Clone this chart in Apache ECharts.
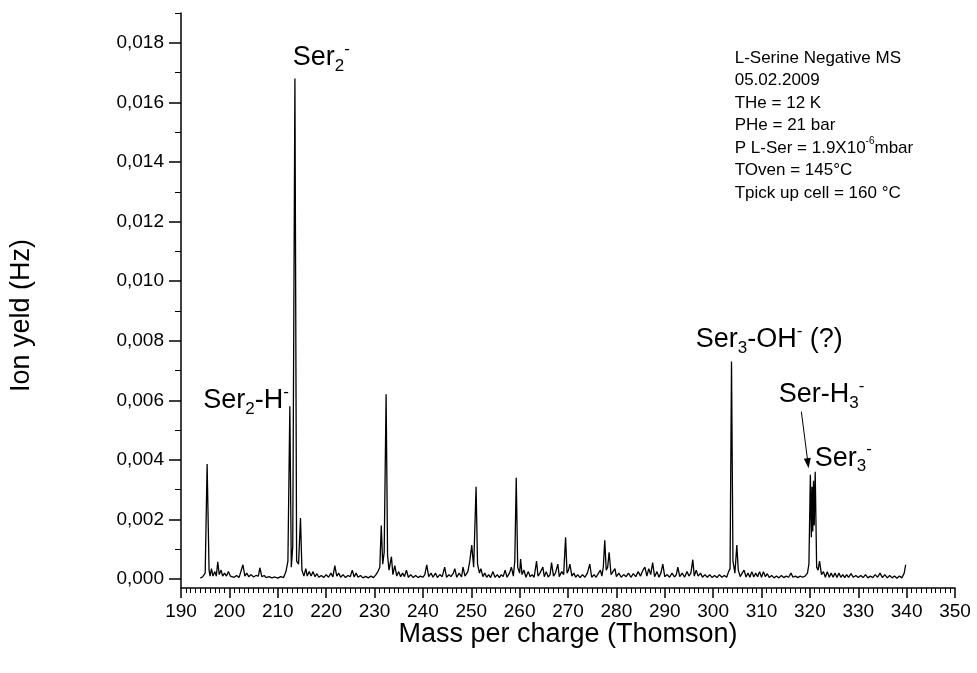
<!DOCTYPE html>
<html>
<head>
<meta charset="utf-8">
<script src="https://cdn.jsdelivr.net/npm/echarts@6/dist/echarts.min.js"></script>
<style>
  html, body { margin: 0; padding: 0; background: #fff; }
  #chart { width: 977px; height: 673px; }
</style>
</head>
<body>
<div id="chart"></div>
<script>
(function () {
  // [mass (Th), ion yield in units of 1e-4 Hz]
  const spectrum = [
    [194.0, 0.3], [194.5, 0.8], [195.0, 2], [195.4, 38.6], [195.8, 3], [196.0, 1], [196.3, 3.5], [196.6, 1],
    [197.0, 2.5], [197.3, 1], [197.6, 5.8], [197.9, 1.5], [198.3, 3], [198.6, 1], [199.0, 2], [199.4, 1],
    [199.8, 2.5], [200.2, 1], [200.6, 1.5], [201.0, 0.6], [201.5, 1.2], [202.0, 0.5], [202.4, 1], [202.8, 4.8],
    [203.2, 1], [203.6, 2], [204.0, 0.8], [204.5, 1.5], [205.0, 0.7], [205.5, 1.2], [206.0, 1], [206.3, 3.8],
    [206.7, 0.8], [207.2, 1.2], [207.6, 0.5], [208.2, 0.8], [208.8, 0.4], [209.4, 0.7], [210.0, 0.3], [210.6, 0.8],
    [211.2, 0.5], [211.7, 2.5], [212.1, 6], [212.5, 58], [212.8, 4], [213.1, 11], [213.55, 168], [213.9, 6],
    [214.3, 5], [214.7, 20.5], [215.0, 3], [215.4, 1], [215.8, 3.5], [216.1, 1], [216.5, 2.5], [216.9, 1],
    [217.3, 2.5], [217.7, 0.8], [218.1, 1.8], [218.5, 0.6], [219.0, 1.2], [219.5, 0.5], [220.0, 1.5], [220.5, 0.6],
    [221.0, 2], [221.4, 0.7], [221.8, 4.5], [222.2, 1], [222.6, 2], [223.0, 0.6], [223.5, 1.5], [224.0, 0.5],
    [224.5, 1.2], [225.0, 0.8], [225.4, 3], [225.8, 0.7], [226.2, 2], [226.6, 0.6], [227.1, 1.2], [227.6, 0.4],
    [228.2, 0.9], [228.7, 0.4], [229.3, 1], [229.8, 0.5], [230.3, 1.5], [230.7, 2.5], [231.1, 4], [231.4, 18],
    [231.7, 5], [232.0, 9], [232.4, 62], [232.7, 8], [233.0, 3], [233.5, 7.5], [233.8, 1.5], [234.2, 4.5],
    [234.6, 1], [235.0, 2.5], [235.4, 0.8], [235.8, 2], [236.2, 0.8], [236.6, 3], [237.0, 0.6], [237.5, 1.5],
    [238.0, 0.5], [238.5, 1.2], [239.0, 0.5], [239.5, 1], [240.0, 0.6], [240.4, 1.5], [240.8, 4.8], [241.2, 0.8],
    [241.7, 2], [242.1, 0.6], [242.6, 2], [243.0, 0.5], [243.5, 1.5], [244.0, 0.8], [244.5, 4], [244.9, 0.6],
    [245.4, 1.5], [245.8, 0.8], [246.3, 2], [246.6, 3.5], [247.0, 0.6], [247.5, 2], [248.0, 0.7], [248.3, 4],
    [248.7, 1], [249.3, 2.5], [249.7, 6], [250.1, 11.4], [250.5, 4], [251.0, 31], [251.3, 5], [251.7, 2],
    [252.0, 3.5], [252.4, 0.8], [252.8, 2], [253.2, 0.6], [253.6, 1.5], [254.0, 0.5], [254.5, 2.5], [254.9, 0.6],
    [255.4, 1.5], [255.8, 0.5], [256.2, 1.5], [256.6, 0.8], [257.0, 3], [257.4, 0.6], [257.9, 2], [258.3, 4],
    [258.7, 1], [259.0, 6], [259.3, 34], [259.6, 4], [260.0, 2], [260.2, 6.7], [260.5, 1.5], [260.9, 3],
    [261.3, 0.6], [261.8, 2.5], [262.2, 0.8], [262.6, 1.5], [263.0, 0.6], [263.5, 6], [263.8, 1], [264.2, 2],
    [264.8, 4], [265.1, 0.8], [265.5, 2.5], [265.9, 0.7], [266.3, 1.5], [266.6, 5.5], [267.0, 1], [267.4, 2],
    [267.9, 5], [268.2, 0.8], [268.7, 2.5], [269.1, 1.5], [269.5, 14], [269.8, 2], [270.1, 3], [270.4, 5],
    [270.8, 1], [271.2, 2], [271.6, 0.6], [272.0, 1.5], [272.5, 0.5], [273.0, 1.5], [273.5, 0.6], [274.0, 2],
    [274.5, 5], [274.9, 0.6], [275.4, 1.5], [275.8, 0.6], [276.3, 2], [276.7, 3], [277.0, 1], [277.3, 4],
    [277.6, 13], [277.9, 3], [278.2, 4], [278.5, 9], [278.9, 1.5], [279.3, 2.5], [279.7, 3.5], [280.0, 0.8],
    [280.5, 2], [281.0, 0.6], [281.5, 1.5], [282.0, 0.8], [282.5, 2], [283.0, 0.6], [283.5, 1.8], [284.0, 0.8],
    [284.5, 2.5], [285.0, 1], [285.5, 3], [285.9, 4], [286.3, 1], [286.7, 3.5], [287.1, 1.5], [287.5, 5.5],
    [287.9, 0.8], [288.4, 2.5], [288.8, 0.6], [289.2, 2], [289.6, 5], [290.0, 0.8], [290.5, 1.5], [291.0, 0.6],
    [291.5, 2], [292.0, 0.7], [292.4, 1.5], [292.7, 4], [293.1, 0.8], [293.6, 2], [294.1, 0.6], [294.6, 2.5],
    [295.0, 1], [295.4, 2], [295.8, 6.5], [296.1, 1], [296.5, 3], [296.9, 1], [297.4, 2], [297.8, 0.6],
    [298.3, 1.5], [298.8, 0.6], [299.3, 1.5], [299.8, 0.5], [300.3, 1.2], [300.8, 0.5], [301.3, 1.5], [301.8, 0.6],
    [302.3, 1.2], [302.8, 0.6], [303.2, 2.5], [303.5, 3.5], [303.8, 73], [304.1, 6], [304.5, 2], [304.9, 11.4],
    [305.2, 3], [305.6, 0.8], [306.0, 2], [306.4, 3], [306.8, 0.7], [307.2, 2], [307.6, 0.6], [308.0, 2.5],
    [308.4, 0.7], [308.8, 2], [309.2, 0.8], [309.6, 2.5], [310.0, 0.6], [310.4, 2.5], [310.8, 0.8], [311.2, 1.8],
    [311.6, 0.5], [312.1, 1.2], [312.6, 0.4], [313.1, 1], [313.6, 0.4], [314.1, 1.2], [314.6, 0.5], [315.1, 1],
    [315.6, 0.6], [316.1, 2], [316.5, 0.6], [317.0, 1], [317.5, 0.5], [318.0, 1], [318.5, 0.6], [319.0, 1],
    [319.5, 2], [319.8, 5], [320.1, 35], [320.3, 14], [320.45, 31], [320.6, 16], [320.75, 33], [320.9, 18],
    [321.1, 36], [321.4, 4], [321.7, 3], [322.0, 6], [322.4, 1.5], [322.8, 2.5], [323.2, 0.6], [323.6, 2.5],
    [324.0, 0.6], [324.4, 2], [324.8, 0.6], [325.2, 2], [325.6, 0.5], [326.0, 2], [326.4, 0.6], [326.8, 1.5],
    [327.2, 0.5], [327.6, 1.5], [328.0, 0.6], [328.5, 1.8], [329.0, 0.6], [329.5, 1.2], [330.0, 0.5], [330.5, 1.2],
    [331.0, 0.5], [331.5, 1.5], [332.0, 0.4], [332.5, 1], [333.0, 0.5], [333.5, 1.5], [334.0, 0.6], [334.5, 2],
    [335.0, 0.5], [335.5, 1.5], [336.0, 0.4], [336.5, 1.2], [337.0, 0.4], [337.5, 1], [338.0, 0.3], [338.5, 1],
    [339.0, 0.4], [339.5, 2], [339.8, 4.8]
  ];

  const majorYTicks = [0, 0.002, 0.004, 0.006, 0.008, 0.010, 0.012, 0.014, 0.016, 0.018];
  const minorYTicks = [0.001, 0.003, 0.005, 0.007, 0.009, 0.011, 0.013, 0.015, 0.017, 0.019];

  // peak labels, anchored at the left/middle of the text in data units
  const peakLabels = [
    { text: '{b|Ser}{sub|2}{sup|-}', at: [213.1, 0.01751] },
    { text: '{b|Ser}{sub|2}{b|-H}{sup|-}', at: [194.6, 0.00598] },
    { text: '{b|Ser}{sub|3}{b|-OH}{sup|-}{b| (?)}', at: [296.4, 0.00803] },
    { text: '{b|Ser-H}{sub|3}{sup|-}', at: [313.55, 0.00618] },
    { text: '{b|Ser}{sub|3}{sup|-}', at: [321.0, 0.00406] }
  ];
  const arrowFrom = [318.24, 0.00562];
  const arrowTo = [319.6, 0.00389];

  const infoLines = [
    '{t|L-Serine Negative MS}',
    '{t|05.02.2009}',
    '{t|THe = 12 K}',
    '{t|PHe = 21 bar}',
    '{t|P L-Ser = 1.9X10}{s|-6}{t|mbar}',
    '{t|TOven = 145°C}',
    '{t|Tpick up cell = 160 °C}'
  ];
  const infoAt = [304.46, 0.01523];

  const font = '"Liberation Sans", Arial, Helvetica, sans-serif';
  const ink = '#000';

  const lineData = spectrum.map(([m, v]) => [m, v * 1e-4]);

  const peakRich = {
    b: { fontSize: 27, fontFamily: font, color: ink, lineHeight: 34 },
    sub: { fontSize: 17, fontFamily: font, color: ink, verticalAlign: 'bottom', lineHeight: 17 },
    sup: { fontSize: 17, fontFamily: font, color: ink, verticalAlign: 'top', lineHeight: 15 }
  };
  const infoRich = {
    t: { fontSize: 17, fontFamily: font, color: ink, lineHeight: 22.5 },
    s: { fontSize: 10, fontFamily: font, color: ink, verticalAlign: 'top', lineHeight: 12 }
  };

  const labelPoints = peakLabels.map((p) => ({
    coord: p.at,
    label: { show: true, position: 'right', distance: 0, formatter: p.text, rich: peakRich }
  }));
  labelPoints.push({
    coord: infoAt,
    label: { show: true, position: 'right', distance: 0, formatter: infoLines.join('\n'), rich: infoRich }
  });

  const chart = echarts.init(document.getElementById('chart'));

  function yLabel(value) {
    return value.toFixed(3).replace('.', ',');
  }

  chart.setOption({
    animation: false,
    backgroundColor: '#fff',
    textStyle: { fontFamily: font },
    grid: { left: 181, right: 22, top: 13, bottom: 85 },
    xAxis: {
      type: 'value',
      min: 190,
      max: 350,
      interval: 10,
      name: 'Mass per charge (Thomson)',
      nameLocation: 'middle',
      nameGap: 33,
      nameMoveOverlap: false,
      nameTextStyle: { fontSize: 27, color: ink, fontFamily: font },
      axisLine: { onZero: false, lineStyle: { color: ink, width: 1.5 } },
      axisTick: { show: true, inside: false, length: 10, lineStyle: { color: ink, width: 1.5 } },
      minorTick: { show: true, splitNumber: 10, length: 5, lineStyle: { color: ink, width: 1 } },
      axisLabel: { color: ink, fontSize: 19, margin: 14, fontFamily: font },
      splitLine: { show: false }
    },
    yAxis: [
      {
        type: 'value',
        min: -0.0003,
        max: 0.019,
        position: 'left',
        name: 'Ion yeld (Hz)',
        nameLocation: 'middle',
        nameGap: 146,
        nameTextStyle: { fontSize: 27, color: ink, fontFamily: font, padding: [0, 30, 0, 0] },
        axisLine: { show: true, onZero: false, lineStyle: { color: ink, width: 1.5 } },
        axisTick: { show: true, inside: false, length: 12, customValues: majorYTicks, lineStyle: { color: ink, width: 1.5 } },
        axisLabel: { color: ink, fontSize: 19, margin: 17, customValues: majorYTicks, formatter: yLabel, fontFamily: font },
        splitLine: { show: false }
      },
      {
        type: 'value',
        min: -0.0003,
        max: 0.019,
        position: 'left',
        axisLine: { show: false },
        axisTick: { show: true, inside: false, length: 6, customValues: minorYTicks, lineStyle: { color: ink, width: 1 } },
        axisLabel: { show: false },
        splitLine: { show: false }
      }
    ],
    series: [
      {
        type: 'line',
        data: lineData,
        xAxisIndex: 0,
        yAxisIndex: 0,
        showSymbol: false,
        symbol: 'none',
        lineStyle: { color: ink, width: 1.3 },
        markPoint: {
          silent: true,
          symbol: 'circle',
          symbolSize: 0,
          itemStyle: { color: 'transparent' },
          data: labelPoints
        },
        markLine: {
          silent: true,
          symbol: ['none', 'triangle'],
          symbolSize: [7, 10],
          lineStyle: { color: ink, width: 1, type: 'solid' },
          label: { show: false },
          data: [[{ coord: arrowFrom }, { coord: arrowTo }]]
        }
      }
    ]
  });

  window.addEventListener('resize', () => chart.resize());
})();
</script>
</body>
</html>
